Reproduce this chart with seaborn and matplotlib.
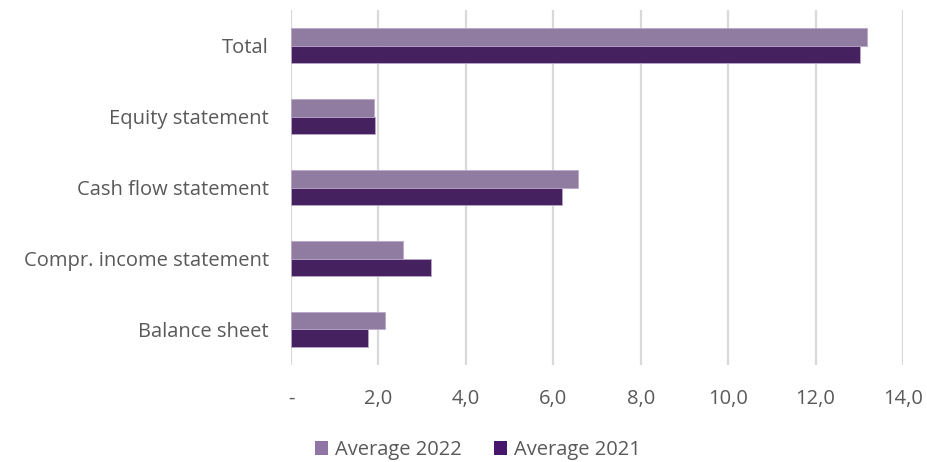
import matplotlib
matplotlib.use("Agg")
import matplotlib.pyplot as plt
import seaborn as sns
import pandas as pd
from matplotlib.ticker import FixedLocator, FuncFormatter
from matplotlib.patches import Patch

categories = ["Total", "Equity statement", "Cash flow statement",
              "Compr. income statement", "Balance sheet"]
avg_2022 = [13.17, 1.90, 6.56, 2.57, 2.16]
avg_2021 = [13.01, 1.92, 6.21, 3.21, 1.75]
series_names = ["Average 2022", "Average 2021"]
colors = ["#9076A7", "#46176A"]
xticks = [0, 2, 4, 6, 8, 10, 12, 14]

df = pd.DataFrame({
    "category": categories * 2,
    "value": avg_2022 + avg_2021,
    "series": [series_names[0]] * len(categories) + [series_names[1]] * len(categories),
})

sns.set_style("white")
plt.rcParams["font.family"] = ["Open Sans", "DejaVu Sans"]

fig = plt.figure(figsize=(9.28, 4.62), dpi=100)
ax = fig.add_axes([0.3136, 0.21, 0.6594, 0.768])

sns.barplot(data=df, y="category", x="value", hue="series", order=categories,
            hue_order=series_names, palette=colors, orient="h", width=0.5,
            ax=ax, edgecolor="#B9A7C9", linewidth=0.6, legend=False)

ax.set_xlim(0, 14)
ax.set_ylim(4.5, -0.5)
ax.xaxis.set_major_locator(FixedLocator(xticks))
ax.xaxis.set_major_formatter(FuncFormatter(
    lambda v, p: "-" if v == 0 else f"{v:.1f}".replace(".", ",")))
ax.grid(axis="x", color="#D9D9D9", linewidth=1.6)
ax.set_axisbelow(True)
for s in ax.spines.values():
    s.set_visible(False)
ax.set_xlabel("")
ax.set_ylabel("")
ax.tick_params(axis="both", length=0, labelsize=14.5, colors="#595959")
ax.tick_params(axis="x", pad=17)
ax.tick_params(axis="y", pad=16)

handles = [Patch(facecolor=c, edgecolor="none") for c in colors]
fig.legend(handles, series_names, loc="center", bbox_to_anchor=(0.515, 0.026),
           ncol=2, frameon=False, fontsize=14.5, handlelength=0.65, handleheight=0.65,
           handletextpad=0.35, columnspacing=1.6, labelcolor="#595959")

fig.savefig("out.png", dpi=100)
